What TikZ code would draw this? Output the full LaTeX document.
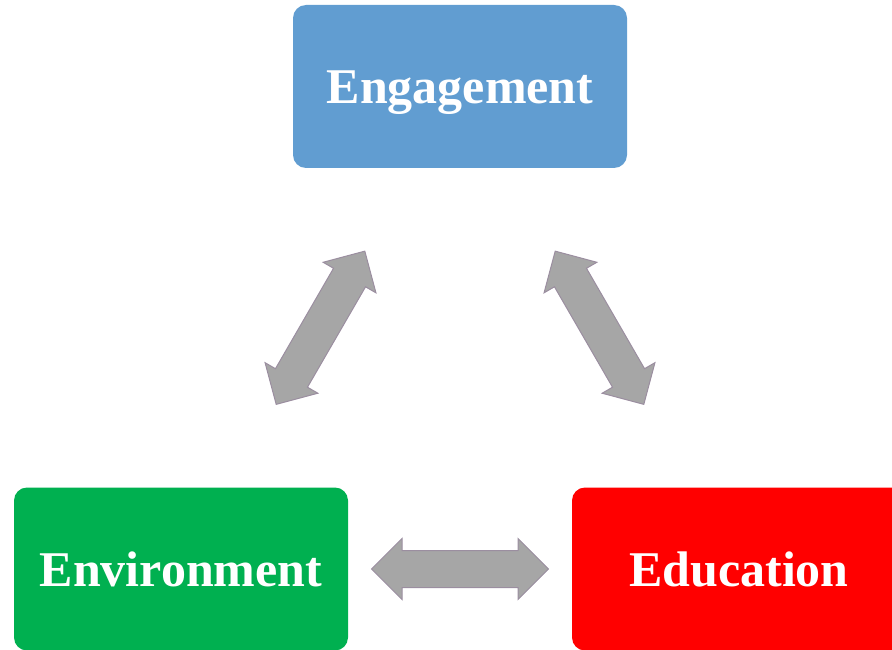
\documentclass[tikz,border=0pt]{standalone}
\usepackage{fontspec}
\setmainfont{Liberation Serif}
\usetikzlibrary{shapes.arrows}

\definecolor{engblue}{RGB}{97,157,209}
\definecolor{envgreen}{RGB}{0,176,80}
\definecolor{edured}{RGB}{255,0,0}
\definecolor{arrowgray}{RGB}{166,166,166}
\definecolor{arrowline}{RGB}{155,142,160}

\begin{document}
\begin{tikzpicture}[x=1pt,y=-1pt,
  topic/.style={rectangle, rounded corners=13pt, minimum width=334pt,
    minimum height=163pt, inner sep=0pt, text=white,
    font=\fontsize{50}{60}\selectfont\bfseries, text height=34pt, text depth=0pt},
  link/.style={double arrow, sloped, fill=arrowgray, draw=arrowline,
    line width=1pt, minimum height=177pt, minimum width=60pt,
    double arrow head extend=12pt, double arrow tip angle=90,
    inner xsep=0pt, inner ysep=18pt}]

\useasboundingbox (0,0) rectangle (892,650);
\clip (0,0) rectangle (892,650);

\node [topic, fill=engblue] (eng) at (460,86.5) {Engagement};
\node [topic, fill=envgreen] (env) at (181,569) {Environment};
\node [topic, fill=edured] (edu) at (739,569) {Education};

\path (eng.center) -- node [link] (engenv) {} (env.center); % left
\path (eng.center) -- node [link] (engedu) {} (edu.center); % right
\path (env.center) -- node [link] (envedu) {} (edu.center); % bottom

\end{tikzpicture}
\end{document}
